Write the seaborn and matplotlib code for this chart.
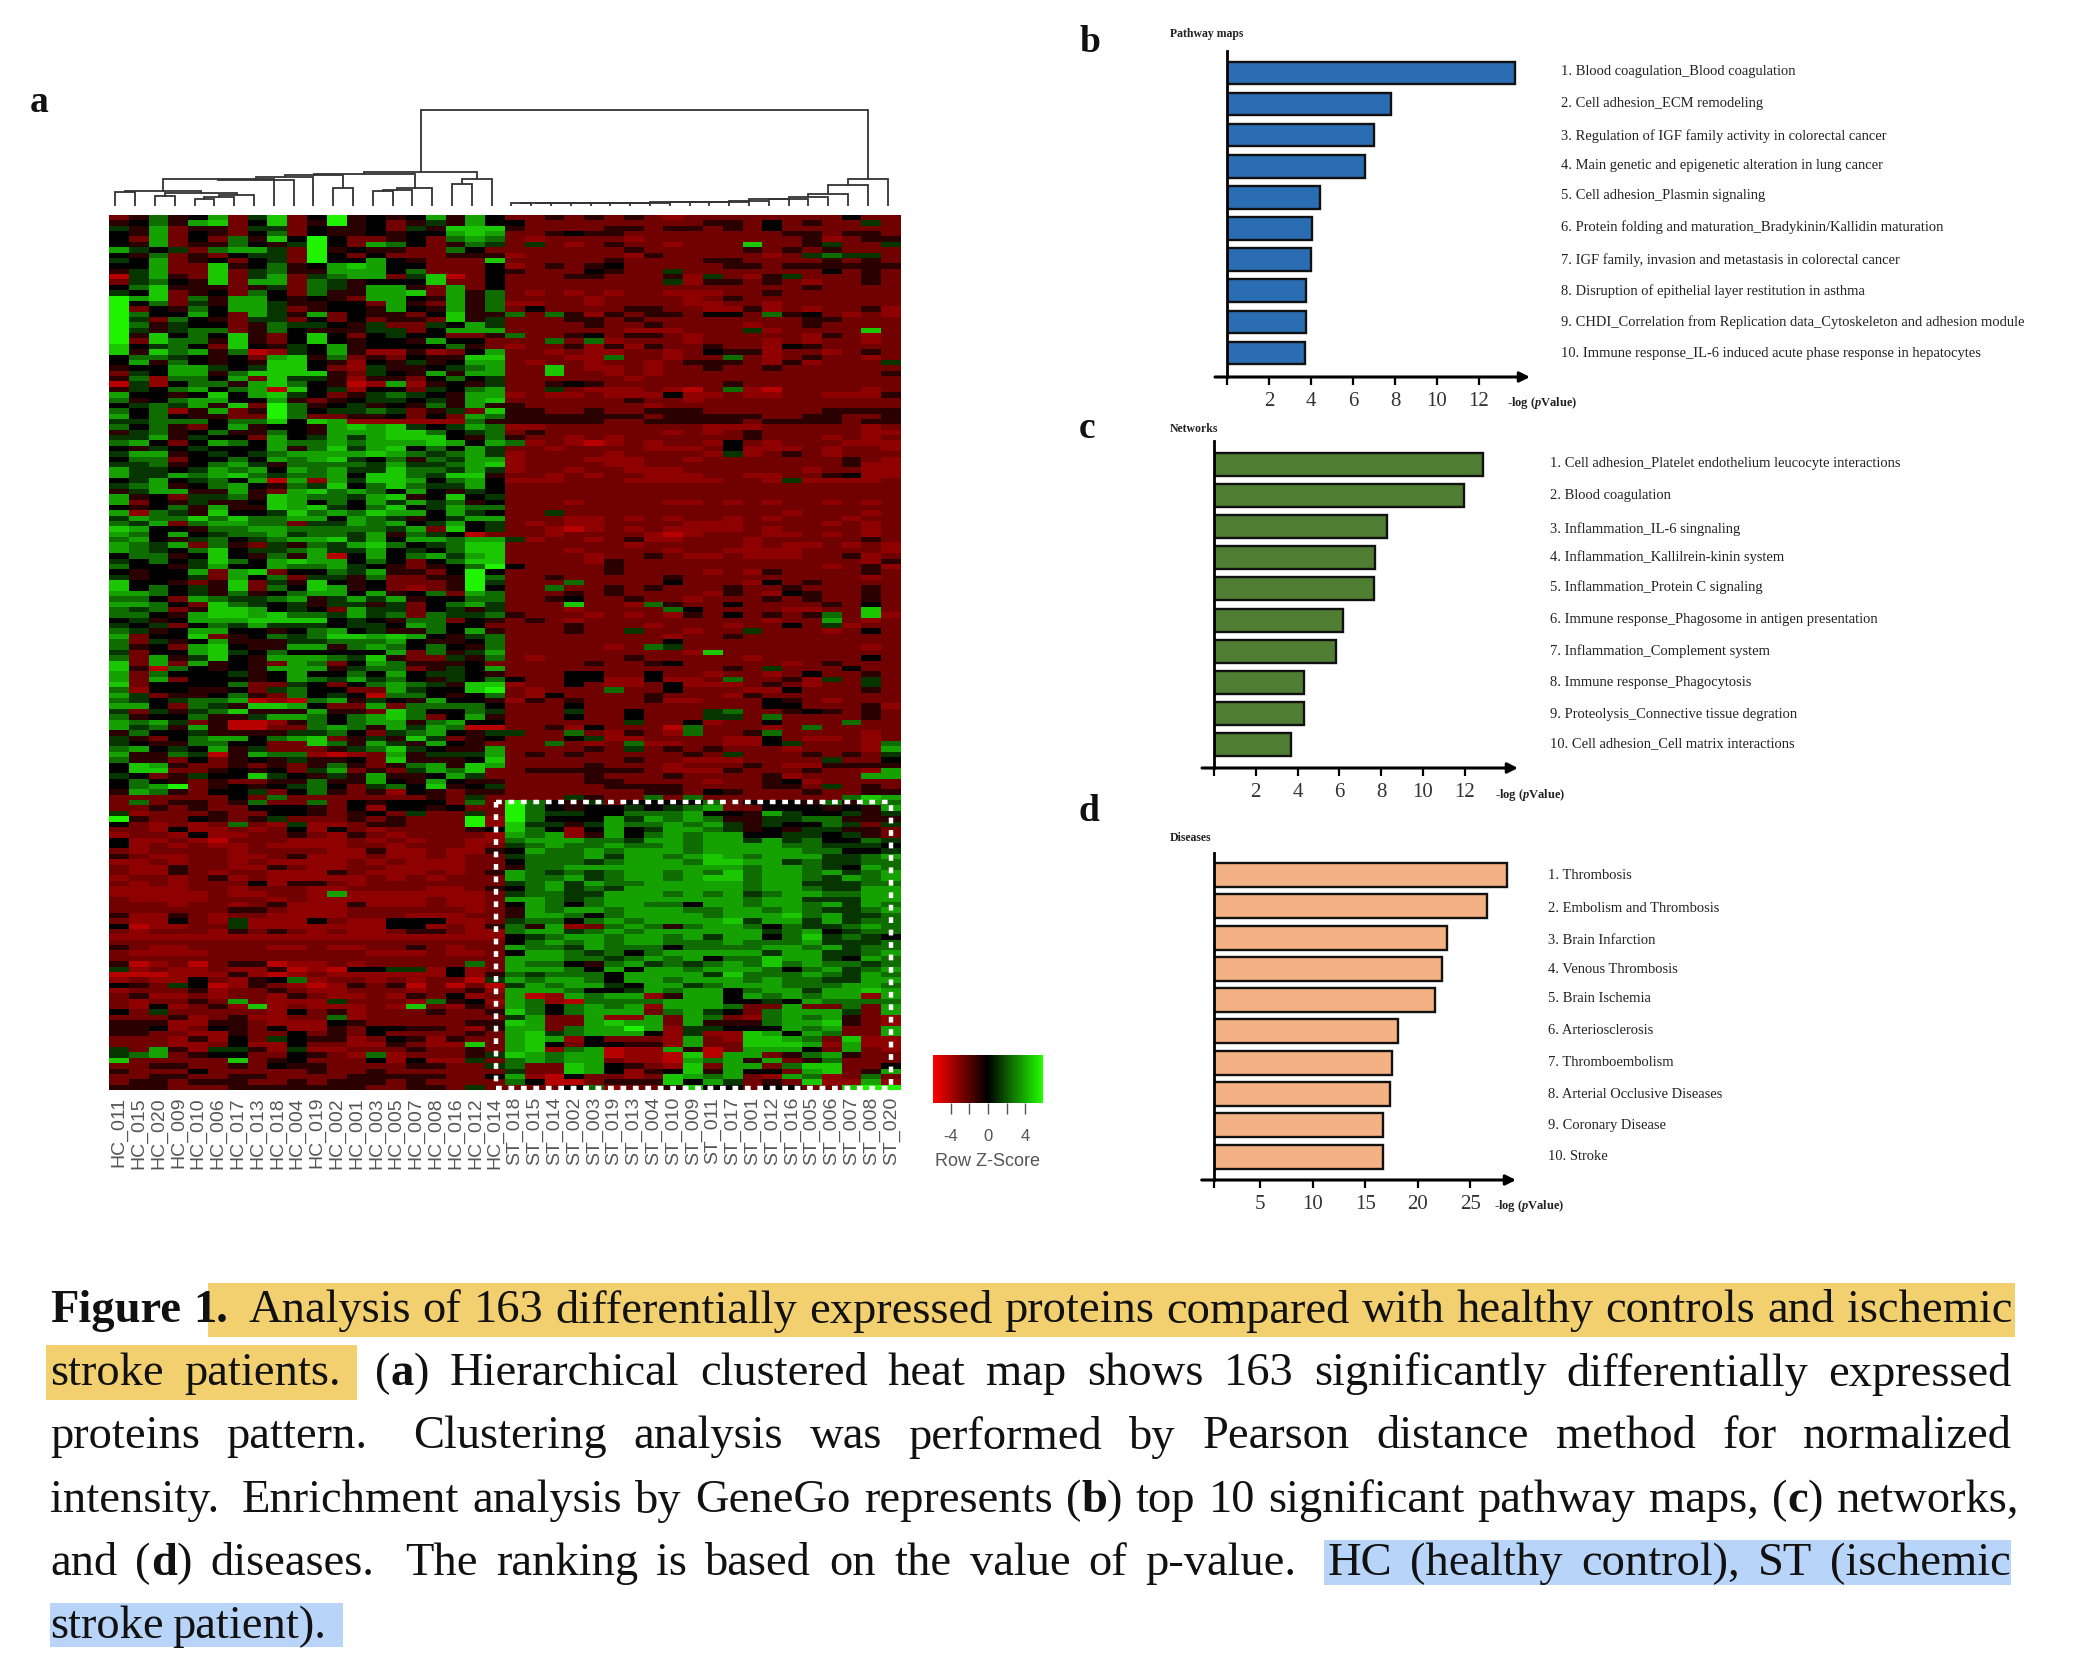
import numpy as np
import pandas as pd
import seaborn as sns
import matplotlib.pyplot as plt
from matplotlib.patches import Rectangle

# figure is 2082x1660, everything below is placed in pixels of the picture
W, H = 2082, 1660

hc_names = ['HC_011', 'HC_015', 'HC_020', 'HC_009', 'HC_010', 'HC_006', 'HC_017', 'HC_013', 'HC_018', 'HC_004',
            'HC_019', 'HC_002', 'HC_001', 'HC_003', 'HC_005', 'HC_007', 'HC_008', 'HC_016', 'HC_012', 'HC_014']
st_names = ['ST_018', 'ST_015', 'ST_014', 'ST_002', 'ST_003', 'ST_019', 'ST_013', 'ST_004', 'ST_010', 'ST_009',
            'ST_011', 'ST_017', 'ST_001', 'ST_012', 'ST_016', 'ST_005', 'ST_006', 'ST_007', 'ST_008', 'ST_020']

# row z-score of each cell, read by eye as a level 0-9 (0 red ... 4 black ... 9 bright green)
level_z = [-4.2, -3.3, -2.6, -1.0, 0.0, 1.2, 2.5, 3.7, 4.6, 5.6]

hc_rows = [
    '23634 72582 49343 47374', '34637 82482 39342 35374', '53723 32552 43342 53888', '43724 32462 43343 44787',
    '42724 26384 94223 42676', '43723 36435 94276 42365', '75452 67752 93433 22642', '43623 24552 94242 22333',
    '54723 42452 94474 32228', '44722 83463 47874 42224', '35722 82563 37774 62224', '05732 82572 56772 58024',
    '25643 82772 65344 48224', '46833 32352 65377 32724', '54823 42642 63377 82736', '97826 37743 43277 43736',
    '94625 37753 34427 32736', '92436 47752 34437 43736', '96447 42753 72433 24833', '95264 32552 42423 32835',
    '96354 42365 54352 25475', '95356 62364 33355 24777', '93846 48324 84245 44223', '92866 38324 84344 37442',
    '84564 28435 47344 44632', '83867 36015 47311 31247', '46654 34278 36232 43388', '47364 34388 43143 53477',
    '34477 54588 42153 34567', '25477 36888 83254 37377', '36166 47285 53133 24645', '05146 63786 43017 13435',
    '35467 46708 45144 25467', '74434 84785 42356 54377', '63467 74473 23455 45378', '45657 38296 34534 36373',
    '64613 72396 45565 23528', '74643 32296 22334 24276', '55666 46684 87111 11163', '64632 47344 37878 54576',
    '35634 63364 37778 86456', '55735 44274 57578 88436', '67424 76476 67677 78747', '43545 44473 68578 46475',
    '57734 54567 77787 65675', '46624 46476 78546 36577', '55634 67536 66657 55678', '75545 76747 67558 66575',
    '75576 78656 67488 65883', '45745 64707 17588 74674', '56734 67436 58468 65574', '35773 37327 86764 74354',
    '73425 56387 66578 34845', '72435 33487 46475 75634', '43463 73387 85468 45766',
    '71653 84458 67687 74754', '57668 68667 74765 34577', '65726 77662 55767 45745', '87443 66776 66665 72845',
    '76474 56675 66573 65402', '67435 64567 78574 77677', '76572 63253 65786 45688', '76546 84556 75574 54688',
    '46634 84363 70474 67578', '54645 86478 77464 24688', '64435 74476 67543 23469', '43447 27824 46573 32494',
    '53445 27462 55362 23396', '84432 38253 84342 22395', '84645 38264 87342 12394', '77645 36346 77473 46276',
    '66427 65567 35757 34466', '77642 86545 35535 24675', '65623 88745 42755 24535', '66437 88786 65756 26556',
    '45347 77888 84543 66243', '54524 65755 54554 76442', '65347 74434 67453 36473', '72448 23465 68878 74356',
    '62534 73335 56667 43346', '63427 84337 73676 46436', '52447 85464 44447 26357', '62735 84377 76583 22536',
    '82727 34327 62476 33342', '83064 34377 73566 23547', '72644 45347 44647 45543', '72724 44347 65756 43546',
    '82444 46225 42467 65388', '61443 34256 44227 54489', '75233 46326 45406 64346', '65456 67010 67354 37443',
    '77426 53887 42272 66664', '52535 68333 73328 64465', '63446 33577 64678 62473', '76752 30013 64677 36744',
    '75637 30022 67637 57600', '36445 33335 56425 67435', '53246 77467 82353 85234', '54336 64422 86375 37432',
    '67454 73522 23568 54337', '73365 03766 10127 35557', '63324 23435 33428 33348', '48732 23232 36323 67387',
    '48822 34342 57232 57682', '54235 44854 35373 34752', '46432 32233 63374 37433', '46792 34345 64256 48345',
    '37632 44524 63231 43233', '22222 24262 22222 23252',
    '26233 23622 62434 44262', '22323 22444 32414 43422', '51222 32244 32342 52252', '93224 32352 22323 22291',
    '42121 26215 11233 22291', '22141 12124 14212 22234', '12214 11223 21321 22221', '41121 02221 11212 12211',
    '41212 11211 11221 22212', '21222 21222 21131 12113', '32112 21123 11121 12122', '11212 21211 11212 11122',
    '21132 21132 11221 11122', '21132 12211 13211 12123', '12212 31211 11121 21222', '21212 22413 32122 22222',
    '11112 21222 11222 21123', '11111 21122 17111 11112', '21111 22212 11111 12112', '22212 21231 11311 12112',
    '22222 23321 11222 22212', '31132 12211 11222 11122', '21142 15111 42114 44112', '40112 25111 11114 41213',
    '21222 13232 12112 33211', '11111 11111 11111 11111', '22222 22222 22222 22222', '32112 22211 21122 32122',
    '21111 22222 22211 12112', '22222 22222 22222 22222', '30120 23301 12122 22262', '51211 21130 10445 51412',
    '00011 13101 21111 11413', '12114 21346 12212 12205', '43254 01321 01323 02020', '12223 12232 11222 12231',
    '23112 12213 21121 32412', '21223 27211 15222 16341',
    '21412 31812 11121 82132', '42522 22214 23122 23223', '22231 23112 26122 22222',
    '33311 33211 14322 22233', '33412 43241 13244 33213', '33221 13224 23242 22232',
    '22213 14254 33124 31322', '22211 24114 22113 21182', '52731 55315 11222 32232',
    '56723 44224 32161 22235', '82222 28234 22241 41152', '22332 23243 32222 33225',
    '32224 22222 32232 22222', '22332 23322 22333 33224', '23323 33223 23332 32222',
    '33322 23333 33322 33252',
]

st_rows = [
    '22323 23212 22222 22422', '42222 22222 33242 32252', '32222 33233 23242 22222', '22343 32222 22223 32332',
    '21222 21222 22222 31233', '25212 32212 22822 35225', '22222 23222 22323 23222', '12222 21322 22212 56552',
    '22222 32222 33222 23232', '12323 42222 23323 33333', '32224 32252 22222 24232', '22233 22231 52135 22232',
    '22222 22251 33232 12232', '22222 22222 22222 32222', '21212 12211 12232 22222', '22221 22221 23222 22222',
    '11221 22221 12212 22222', '24222 23322 11312 12231', '62631 32332 44263 42121', '22233 23222 22222 33222',
    '22223 22322 22122 32222', '22222 21112 22512 22282', '62234 23321 22222 13212', '22626 12221 22212 12212',
    '12231 31322 32214 32222', '22121 12212 43312 21232', '22211 62212 26212 32212', '21221 22123 33213 12225',
    '22821 12122 32232 22222', '22822 12122 22222 22223', '22222 21222 22222 22222', '22343 22222 23222 22222',
    '22521 11210 26102 22212', '12112 11141 12112 21113', '22222 23221 22222 22222', '32222 22122 22222 22222',
    '33223 22333 22222 23333', '33333 33233 33322 33223', '33333 22333 33233 33233', '11222 22222 11122 22212',
    '23222 22212 12322 22211', '32212 12222 22322 21212', '61210 12122 14212 22111', '22122 22111 24111 21221',
    '12222 12222 15123 21222', '12221 11221 22222 22321', '12222 11222 22222 22311', '12212 21112 22222 12211',
    '22121 22111 22112 23411', '11122 21111 12215 11112', '22222 22222 22222 22222', '22222 22222 22222 22222',
    '22222 22222 22222 22222', '22212 22211 21212 21212', '22222 22222 22222 22222',
    '22522 22222 22221 22212', '22211 21212 21212 22122', '21211 22221 11222 21212', '22101 21211 11212 22212',
    '22122 22101 22211 21212', '51221 23112 22122 22232', '22222 21222 22121 12121', '22212 22212 21111 22221',
    '22221 22321 12111 22312', '22221 32222 22222 22213', '42222 32222 22222 21231', '22222 32222 12132 22232',
    '22322 22232 22222 22212', '22262 22242 22142 32222', '22622 32322 23223 22232', '22232 32222 13214 32232',
    '22342 23221 22232 32232', '22282 21632 24222 23242', '22212 22264 22221 12282', '32221 21213 24232 36281',
    '23212 22222 22212 27212', '22232 22122 21224 25122', '22232 25221 22522 21242', '22222 22212 23222 22222',
    '22222 22242 22222 22222', '22222 12652 22222 22212', '22222 22221 82222 22222', '21222 23222 22122 22242',
    '22223 22342 22221 23222', '22222 22222 23252 22422', '22244 22422 12212 42232', '42244 11411 26223 15252',
    '12242 11241 11232 12252', '21222 62242 22114 22232', '21422 22322 21322 22222', '13232 22311 22243 21222',
    '22242 22222 22244 22231', '22252 24222 56223 43232', '22242 24222 55262 22232', '22222 25224 12242 22622',
    '22314 22206 22212 62222', '52262 13216 22362 22212', '22245 11222 21142 11212', '22621 26112 21145 22216',
    '22223 25232 32221 22217', '23232 22223 25222 32325', '22222 23221 11222 25224', '22223 22212 22321 13333',
    '23333 33211 13222 32217', '22223 22232 22231 22277', '22223 32222 12234 12222', '22222 33332 22233 25232',
    '22222 22332 43222 32233', '22253 22626 22222 22687',
    '96435 24444 62444 36376', '96434 45456 72244 43437', '96554 46667 44375 44535', '96444 75767 63355 66333',
    '85535 76676 75354 46525', '86414 74577 65343 55332', '76713 74676 77445 54532', '67776 65776 77575 64465',
    '56766 76676 77776 65554', '47667 67776 77777 66445', '56667 57767 87677 75567', '46665 67776 88775 65566',
    '36677 77777 77677 65476', '76565 67767 68677 67567', '76675 67767 88677 65767', '56757 66777 77677 55566',
    '46756 57777 77677 65577', '56655 77767 67567 76677', '77656 77777 77677 55577', '47646 77664 77677 67576',
    '37677 67776 67767 65567', '37764 67777 67778 67556', '56646 76777 78577 57566', '63712 67636 77646 55676',
    '67756 76777 77756 74566', '45677 67767 57746 85654', '46767 67766 67666 75556', '76657 66646 66677 67566',
    '47765 64677 77757 75567', '77766 56767 46687 75476', '76643 67565 67686 76656', '77764 74776 77764 67567',
    '65666 47777 58666 76576', '76776 47767 77676 65577', '57677 54775 67776 66776', '77764 45767 74677 57787',
    '70176 77137 74767 67717', '76106 66677 74454 76666', '76467 67177 76227 22627', '86467 77267 54267 77527',
    '57227 11727 62167 67321', '87227 87727 33367 78321', '77267 79715 54447 67227', '78567 77415 11874 76227',
    '78714 22217 21887 62811', '78424 43317 22888 71711', '78167 01173 02777 42721', '87677 01108 07723 67322',
    '67677 21107 67372 36222', '62287 43218 27726 88224', '52287 41348 37442 78237', '71042 21287 67217 61262',
    '64002 33384 75232 81171', '22246 12238 44244 22899',
]

pathway_names = ['1. Blood coagulation_Blood coagulation', '2. Cell adhesion_ECM remodeling',
                 '3. Regulation of IGF family activity in colorectal cancer',
                 '4. Main genetic and epigenetic alteration in lung cancer', '5. Cell adhesion_Plasmin signaling',
                 '6. Protein folding and maturation_Bradykinin/Kallidin maturation',
                 '7. IGF family, invasion and metastasis in colorectal cancer',
                 '8. Disruption of epithelial layer restitution in asthma',
                 '9. CHDI_Correlation from Replication data_Cytoskeleton and adhesion module',
                 '10. Immune response_IL-6 induced acute phase response in hepatocytes']
pathway_values = [13.7, 7.8, 7.0, 6.55, 4.43, 4.04, 3.98, 3.77, 3.77, 3.7]

network_names = ['1. Cell adhesion_Platelet endothelium leucocyte interactions', '2. Blood coagulation',
                 '3. Inflammation_IL-6 singnaling', '4. Inflammation_Kallilrein-kinin system',
                 '5. Inflammation_Protein C signaling', '6. Immune response_Phagosome in antigen presentation',
                 '7. Inflammation_Complement system', '8. Immune response_Phagocytosis',
                 '9. Proteolysis_Connective tissue degration', '10. Cell adhesion_Cell matrix interactions']
network_values = [12.87, 11.95, 8.3, 7.68, 7.65, 6.16, 5.85, 4.33, 4.3, 3.69]

disease_names = ['1. Thrombosis', '2. Embolism and Thrombosis', '3. Brain Infarction', '4. Venous Thrombosis',
                 '5. Brain Ischemia', '6. Arteriosclerosis', '7. Thromboembolism', '8. Arterial Occlusive Diseases',
                 '9. Coronary Disease', '10. Stroke']
disease_values = [28.5, 26.6, 22.8, 22.3, 21.6, 18.1, 17.5, 17.4, 16.7, 16.7]

# dendrogram: (child, child, height). 0-39 are the leaves, new nodes count up from 40
left_merges = [(4, 5, 7), (40, 6, 9), (41, 7, 11), (2, 3, 10), (43, 42, 13), (0, 1, 13.5), (45, 44, 15), (46, 8, 27),
               (47, 9, 25.5), (48, 10, 29), (11, 12, 17.7), (49, 50, 31), (13, 14, 14.5), (52, 15, 16), (53, 16, 17.5),
               (51, 54, 32), (17, 18, 22), (56, 19, 27), (55, 57, 33.7), (20, 21, 2.8)]
right_heights = [2.8, 2.9, 3, 3, 3.1, 3.2, 3.4, 3.5, 3.7, 4, 4.4, 5.2, 6.5, 7.4, 9.3, 11.7, 21, 27]

sns.set_theme(style='white')
plt.rcParams['font.family'] = ['Liberation Serif', 'DejaVu Sans']
plt.rcParams['mathtext.fontset'] = 'custom'
plt.rcParams['mathtext.bfit'] = 'Liberation Serif:italic:bold'

fig = plt.figure(figsize=(W / 100, H / 100), dpi=100)


def px_axes(left, top, right, bottom):
    return fig.add_axes([left / W, 1 - bottom / H, (right - left) / W, (bottom - top) / H])


def px_text(x, y, s, **kw):
    kw.setdefault('va', 'center')
    return fig.text(x / W, 1 - y / H, s, **kw)


# ---- a: heat map
assert len(hc_rows) == 163 and len(st_rows) == 163, (len(hc_rows), len(st_rows))
matrix = np.array([[level_z[int(c)] for c in (h + s).replace(' ', '')] for h, s in zip(hc_rows, st_rows)])
cmap = sns.blend_palette(['#ff0000', '#000000', '#22ff00'], as_cmap=True)

ax = px_axes(109, 215, 901, 1090)
cax = px_axes(933, 1055, 1043, 1103)
sns.heatmap(matrix, ax=ax, cmap=cmap, vmin=-5.9, vmax=5.9, yticklabels=False, xticklabels=hc_names + st_names,
            cbar_ax=cax, cbar_kws={'orientation': 'horizontal', 'ticks': [-4, -2, 0, 2, 4]})
ax.tick_params(axis='x', length=0, pad=5, labelrotation=90)
for lab in ax.get_xticklabels():
    lab.set_fontfamily('Liberation Sans')
    lab.set_fontsize(14)
    lab.set_color('#555555')

cax.set_xticklabels(['-4', '', '0', '', '4'], fontfamily='Liberation Sans', fontsize=12, color='#555555')
cax.tick_params(axis='x', length=8, width=1, color='#555555', bottom=True, pad=11)
cax.set_xlabel('Row Z-Score', fontfamily='Liberation Sans', fontsize=13, color='#555555', labelpad=6)

# white dotted box round the ST up-regulated block
ax.add_patch(Rectangle((19.55, 109.4), 19.95, 53.3, fill=False, edgecolor='white', linewidth=3.2,
                       linestyle=(0, (1.3, 1.5)), clip_on=False))

# dendrogram above the heat map
dax = px_axes(109, 105, 901, 206)
dax.set_xlim(0, 40)
dax.set_ylim(0, 101)
dax.axis('off')
merges = list(left_merges)
node = 40 + len(merges) - 1
for leaf, h in zip(range(22, 40), right_heights):
    merges.append((node, leaf, h))
    node = 40 + len(merges) - 1
merges.append((58, node, 96))
pos = {i: (i + 0.32, 0) for i in range(40)}
for n, (a, b, h) in enumerate(merges):
    xa, ya = pos[a]
    xb, yb = pos[b]
    dax.plot([xa, xa, xb, xb], [ya, h, h, yb], color='#333333', lw=1.3, solid_joinstyle='miter')
    pos[40 + n] = ((xa + xb) / 2, h)


# ---- b, c, d: bar panels
def bar_panel(names, values, color, first, step, height, top, axis_y, x0, per_unit, tip, xmin, ticks, label_x, label_y):
    left = x0 + xmin * per_unit
    bx = px_axes(left, top, tip, axis_y)
    df = pd.DataFrame({'name': names, 'value': values})
    sns.barplot(data=df, y='name', x='value', color=color, saturation=1, width=height / step,
                edgecolor='#111111', linewidth=1.7, ax=bx)
    bx.set_ylim((axis_y - first) / step, (top - first) / step)
    bx.set_xlim(xmin, xmin + (tip - left) / per_unit)
    bx.set_xlabel('')
    bx.set_ylabel('')
    bx.set_yticks([])
    bx.set_xticks([xmin] + ticks)
    bx.set_xticklabels([''] + [str(t) for t in ticks], fontsize=15, color='#333333')
    bx.tick_params(axis='x', bottom=True, length=6, width=1.6, color='black', pad=5)
    for side in ['top', 'right', 'bottom']:
        bx.spines[side].set_visible(False)
    bx.spines['left'].set_linewidth(2)
    bx.spines['left'].set_color('black')
    bx.annotate('', xy=(1, 0), xytext=(-12 / (tip - left), 0), xycoords='axes fraction', textcoords='axes fraction',
                annotation_clip=False,
                arrowprops=dict(arrowstyle='-|>', color='black', lw=2.2, mutation_scale=15, shrinkA=0, shrinkB=0))
    for name, y in zip(names, label_y):
        px_text(label_x, y, name, fontsize=10.45, color='#222222')
    return bx


bar_panel(pathway_names, pathway_values, '#2a6db3', 73, 31.1, 22.5, 51, 377, 1227, 21, 1530, 0,
          [2, 4, 6, 8, 10, 12], 1561, [71, 104, 136, 166, 196, 227, 260, 291, 322, 353])
bar_panel(network_names, network_values, '#4f7e33', 464, 31.2, 23, 441, 768, 1214, 20.9, 1518, 0,
          [2, 4, 6, 8, 10, 12], 1550, [463, 496, 529, 557, 587, 619, 651, 682, 714, 744])
bar_panel(disease_names, disease_values, '#f4b183', 875, 31.3, 24, 853, 1180, 1207.4, 10.52, 1516, 0.6,
          [5, 10, 15, 20, 25], 1548, [875, 908, 940, 969, 998, 1030, 1063, 1094, 1125, 1156])

bold = dict(fontweight='bold', color='#222222')
px_text(1170, 34, 'Pathway maps', fontsize=8.5, **bold)
px_text(1170, 429, 'Networks', fontsize=8.5, **bold)
px_text(1170, 838, 'Diseases', fontsize=8.5, **bold)
for x, y in [(1507, 403), (1495, 795), (1494, 1206)]:
    px_text(x, y, r'-log ($\mathbfit{p}$Value)', fontsize=9, **bold)

for s, x, y in [('a', 30, 103), ('b', 1079, 43), ('c', 1079, 428), ('d', 1079, 811)]:
    px_text(x, y, s, fontsize=27, fontweight='bold', color='#111111')

# ---- caption
for x0, y0, x1, y1, c in [(208, 1283, 2015, 1337, '#f3d06f'), (46, 1345, 357, 1400, '#f3d06f'),
                          (1324, 1540, 2011, 1585, '#b8d4f8'), (50, 1603, 343, 1647, '#b8d4f8')]:
    fig.add_artist(Rectangle((x0 / W, 1 - y1 / H), (x1 - x0) / W, (y1 - y0) / H, color=c, lw=0,
                             transform=fig.transFigure, zorder=0))

caption = ['*Figure 1.* Analysis of 163 differentially expressed proteins compared with healthy controls and ischemic',
           'stroke patients. (*a*) Hierarchical clustered heat map shows 163 significantly differentially expressed',
           'proteins pattern. Clustering analysis was performed by Pearson distance method for normalized',
           'intensity. Enrichment analysis by GeneGo represents (*b*) top 10 significant pathway maps, (*c*) networks,',
           'and (*d*) diseases. The ranking is based on the value of p-value. HC (healthy control), ST (ischemic',
           'stroke patient).']
caption_y = [1311, 1374, 1437, 1501, 1564, 1627]
caption_right = [2012, 2012, 2012, 2019, 2011, None]

renderer = fig.canvas.get_renderer()


def measure(s, weight):
    t = px_text(0, 0, s, fontsize=33.5, fontweight=weight)
    w = t.get_window_extent(renderer).width
    t.remove()
    return w


for line, y, right in zip(caption, caption_y, caption_right):
    is_bold = False
    words = []
    for word in line.split(' '):
        pieces = []
        for k, piece in enumerate(word.split('*')):
            if k > 0:
                is_bold = not is_bold
            if piece:
                pieces.append((piece, 'bold' if is_bold else 'normal'))
        words.append(pieces)
    widths = [sum(measure(p, b) for p, b in w) for w in words]
    weights = [1.7 if w[-1][0].endswith('.') else 1 for w in words[:-1]]
    gap = 9 if right is None else (right - 50 - sum(widths)) / sum(weights)
    x = 50
    for w, width, wt in zip(words, widths, weights + [0]):
        cx = x
        for p, b in w:
            px_text(cx, y, p, fontsize=33.5, fontweight=b, color='#111111')
            cx += measure(p, b)
        x += width + gap * wt

fig.savefig('out.png', dpi=100)
